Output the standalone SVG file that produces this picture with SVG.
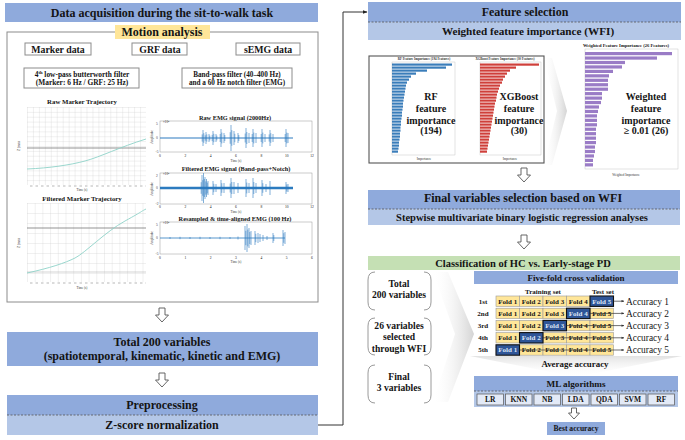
<svg xmlns="http://www.w3.org/2000/svg" width="685" height="440" viewBox="0 0 685 440">
<defs>
<style>
text{font-family:"Liberation Serif","Times New Roman",serif;fill:#141414}
.b{font-weight:bold}
.m{text-anchor:middle}
.h12{font-size:12px;font-weight:bold;text-anchor:middle}
.hd{fill:#8faadc}
.lt{fill:#b4c7e7}
.box{fill:#fff;stroke:#8c8c8c;stroke-width:1}
.dash{stroke:#555;stroke-width:0.8;stroke-dasharray:2,1.5}
.arw{fill:#fff;stroke:#555;stroke-width:0.9}
.emg{stroke:#2c7bbf;stroke-width:0.6;fill:none}
.eb{stroke:#2c7bbf;fill:none}
.ax{fill:#fff;stroke:#999;stroke-width:0.5}
.tk{font-size:3.6px;fill:#444;text-anchor:middle}
.fold{fill:#ffe699;stroke:#9a9a9a;stroke-width:0.6}
.test{fill:#2f5597;stroke:#111;stroke-width:1.1}
.ft{font-size:7px;font-weight:bold;text-anchor:middle}
.tw{fill:#dfe6f5}
.rl{font-size:7px;font-weight:bold;text-anchor:middle}
.acc{font-size:9.4px}
.brk{fill:none;stroke:#9a9a9a;stroke-width:1}
.bt{font-size:9.6px;font-weight:bold;text-anchor:middle}
.big{font-size:10px;font-weight:bold;text-anchor:middle}
.ml{fill:#e3eaf7;stroke:#555;stroke-width:0.7}
.mlt{font-size:7.5px;font-weight:bold;text-anchor:middle}
.rf{fill:#3a7dba}
.xg{fill:#cf3f3a}
.pu{fill:#9a7cc6}
.tiny{font-size:3.2px;fill:#333;text-anchor:middle}
.curve{fill:none;stroke:#8fd3c8;stroke-width:0.9}
</style>
<pattern id="g1" width="5.95" height="4.875" patternUnits="userSpaceOnUse" x="27" y="107"><path d="M0,0V4.875M0,0H5.95" stroke="#c6c6c6" stroke-width="0.5" fill="none"/></pattern>
<pattern id="g2" width="7.7" height="10" patternUnits="userSpaceOnUse" x="27" y="203"><path d="M0,0V10M0,0H7.7" stroke="#c6c6c6" stroke-width="0.5" fill="none"/></pattern>
<linearGradient id="fade" x1="0" y1="0" x2="1" y2="0"><stop offset="0" stop-color="#ffffff" stop-opacity="0"/><stop offset="1" stop-color="#d4d4d4"/></linearGradient>
<linearGradient id="fadeV" x1="0" y1="0" x2="0" y2="1"><stop offset="0" stop-color="#e2e2e2"/><stop offset="1" stop-color="#ffffff" stop-opacity="0"/></linearGradient>
<marker id="ah" viewBox="0 0 10 10" refX="9" refY="5" markerWidth="5" markerHeight="5" orient="auto"><path d="M0,1L10,5L0,9z" fill="#222"/></marker>
<marker id="sa" viewBox="0 0 10 10" refX="9" refY="5" markerWidth="4" markerHeight="4" orient="auto"><path d="M0,1L10,5L0,9z" fill="#333"/></marker>
<path id="darrow" d="M-3,0h6v7h3.5l-6.5,7l-6.5,-7h3.5z"/>
<path id="sarrow" d="M-2.5,0h5v5h3l-5.5,6l-5.5,-6h3z"/>
</defs>

<!-- LEFT COLUMN -->
<g id="title-left">
<rect x="5" y="3" width="313" height="19" class="hd"/>
<text x="162" y="16.5" class="h12">Data acquisition during the sit-to-walk task</text>
</g>

<g id="motion-analysis">
<rect x="7" y="32" width="311" height="270" fill="none" stroke="#8c8c8c" stroke-width="1"/>
<rect x="115" y="25" width="95" height="14" fill="#ffe699"/>
<text x="162" y="36" class="h12">Motion analysis</text>
</g>

<g id="marker-data"><rect x="25" y="43" width="66" height="12" class="box"/><text x="58" y="52.5" class="b m" font-size="9.8">Marker data</text></g>
<g id="grf-data"><rect x="132" y="43" width="55" height="12" class="box"/><text x="160" y="52.5" class="b m" font-size="9.8">GRF data</text></g>
<g id="semg-data"><rect x="236" y="43" width="64" height="12" class="box"/><text x="268" y="52.5" class="b m" font-size="9.8">sEMG data</text></g>

<g id="filter-marker">
<rect x="24" y="68" width="115" height="20" class="box"/>
<text x="82" y="76.5" class="b m" font-size="7.4">4<tspan font-size="4.6" dy="-2.5">th</tspan><tspan dy="2.5"> low-pass butterworth filter</tspan></text>
<text x="82" y="85" class="b m" font-size="7.4">(Marker: 6 Hz / GRF: 25 Hz)</text>
</g>
<g id="filter-emg">
<rect x="182" y="68" width="110" height="20" class="box"/>
<text x="237" y="76.5" class="b m" font-size="7.2">Band-pass filter (40–400 Hz)</text>
<text x="237" y="85" class="b m" font-size="7.2">and a 60 Hz notch filter (EMG)</text>
</g>

<g id="raw-marker-plot">
<text x="82" y="103.5" class="b m" font-size="6.8">Raw Marker Trajectory</text>
<rect x="27" y="107" width="119" height="78" fill="url(#g1)"/>
<line x1="27" y1="148" x2="146" y2="148" stroke="#666" stroke-width="0.7"/>
<path class="curve" d="M27,169 C50,168 70,165 85,161 S120,147 146,139"/>
<line x1="30" y1="186" x2="146" y2="186" stroke="#888" stroke-width="0.6" stroke-dasharray="2.5,3"/>
<text x="82" y="191" class="tiny">Time (s)</text>
<text transform="translate(20,146) rotate(-90)" class="tiny">Z (mm)</text>
</g>

<g id="filtered-marker-plot">
<text x="82" y="200.5" class="b m" font-size="6.8">Filtered Marker Trajectory</text>
<rect x="27" y="203" width="119" height="79" fill="url(#g2)"/>
<line x1="27" y1="228" x2="146" y2="228" stroke="#666" stroke-width="0.7"/>
<line x1="27" y1="272" x2="146" y2="272" stroke="#aaa" stroke-width="0.5"/>
<path class="curve" d="M27,273 C50,268 65,263 75,258 S105,232 125,221 S140,212 146,209"/>
<line x1="30" y1="283" x2="146" y2="283" stroke="#888" stroke-width="0.6" stroke-dasharray="2.5,3"/>
<text x="82" y="289" class="tiny">Time (s)</text>
<text transform="translate(20,243) rotate(-90)" class="tiny">Z (mm)</text>
</g>

<g id="raw-emg-plot">
<text x="235" y="119.5" class="b m" font-size="6.3">Raw EMG signal (2000Hz)</text>
<rect x="160" y="121" width="152" height="31" class="ax"/>
<text x="163" y="123" font-size="3.2">×10<tspan font-size="2.4" dy="-1">4</tspan></text>
<text x="157" y="125" class="tk">5</text><text x="157" y="139" class="tk">0</text><text x="157" y="153" class="tk">-5</text>
<text transform="translate(153,137) rotate(-90)" class="tiny">Amplitude</text>
<path class="eb" stroke-width="1.1" d="M160 138H293"/>
<path class="emg" d="M203 130V146M203.8 133.2V142.8M202.2 134.4V141.6M206 132V144M206.8 134.4V141.6M205.2 135.3V140.7M209 134V142M209.8 135.6V140.4M213 131V145M213.8 133.8V142.2M212.2 134.85V141.15M216 134V142M216.8 135.6V140.4M221 129V147M221.8 132.6V143.4M220.2 134V142M224 133V143M224.8 135V141M231 125V151M231.8 130.2V145.8M230.2 132.2V143.8M234 131V145M234.8 133.8V142.2M238 133V143M238.8 135V141M246 128V148M246.8 132V144M245.2 133.5V142.5M249 133V143M253 129V147M253.8 132.6V143.4M252.2 134V142M256 133V143M262 129V147M262.8 132.6V143.4M261.2 134V142M265 134V142M270 130V146M270.8 133.2V142.8M269.2 134.4V141.6M273 134V142M286 129V147M286.8 132.6V143.4M285.2 134V142M288 133V143"/>
<g class="tk"><text x="160" y="157">0</text><text x="185.3" y="157">2</text><text x="210.7" y="157">4</text><text x="236" y="157">6</text><text x="261.3" y="157">8</text><text x="286.7" y="157">10</text><text x="312" y="157">12</text></g>
<text x="236" y="162" class="tiny">Time (s)</text>
</g>

<g id="filtered-emg-plot">
<text x="236" y="171" class="b m" font-size="6.3">Filtered EMG signal (Band-pass+Notch)</text>
<rect x="160" y="173" width="152" height="31" class="ax"/>
<text x="163" y="175" font-size="3.2">×10<tspan font-size="2.4" dy="-1">4</tspan></text>
<text x="157" y="177" class="tk">2</text><text x="157" y="189" class="tk">0</text><text x="157" y="205" class="tk">-2</text>
<text transform="translate(153,189) rotate(-90)" class="tiny">Amplitude</text>
<path class="eb" stroke-width="2.4" d="M160 188H293"/>
<path class="emg" d="M202 175V201M202.8 180.2V195.8M201.2 182.2V193.8M203.5 173V203M204.3 179V197M205 177V199M205.8 181.4V194.6M206.5 179V197M207.3 182.6V193.4M208 181V195M213 181V195M213.8 183.8V192.2M216 184V192M221 180V196M221.8 183.2V192.8M224 183V193M231 178V198M231.8 182V194M230.2 183.5V192.5M234 182V194M238 183V193M246 179V197M246.8 182.6V193.4M249 183V193M253 178V198M253.8 182V194M256 183V193M262 180V196M262.8 183.2V192.8M266 184V192M270 181V195M286 182V194M286.8 184.4V191.6M288 184V192"/>
<g class="tk"><text x="160" y="208">0</text><text x="185.3" y="208">2</text><text x="210.7" y="208">4</text><text x="236" y="208">6</text><text x="261.3" y="208">8</text><text x="286.7" y="208">10</text><text x="312" y="208">12</text></g>
<text x="236" y="213" class="tiny">Time (s)</text>
</g>

<g id="resampled-emg-plot">
<text x="235" y="220.5" class="b m" font-size="6.3">Resampled &amp; time-aligned EMG (100 Hz)</text>
<rect x="160" y="222" width="152" height="32" class="ax"/>
<text x="163" y="224" font-size="3.2">×10<tspan font-size="2.4" dy="-1">4</tspan></text>
<text x="157" y="226" class="tk">5</text><text x="157" y="239" class="tk">0</text><text x="157" y="255" class="tk">-5</text>
<text transform="translate(153,238) rotate(-90)" class="tiny">Amplitude</text>
<path class="eb" stroke-width="0.8" d="M160 238H285"/>
<path class="emg" d="M170 237V239M180 236.8V239.2M190 237V239M200 236.8V239.2M210 237V239M220 236.8V239.2M230 237V239M238 236.5V239.5M245 226V250M245.8 230.8V245.2M247 224V252M247.8 229.6V246.4M249 228V248M249.8 232V244M251 231V245M255 231V245M255.8 233.8V242.2M258 233V243M260 234V242M263 235V241M267 236V240M273 233V243M273.8 235V241M283 230V246M283.8 233.2V242.8M285 232V244"/>
<g class="tk"><text x="160" y="258.5">0</text><text x="185.3" y="258.5">1</text><text x="210.7" y="258.5">2</text><text x="236" y="258.5">3</text><text x="261.3" y="258.5">4</text><text x="286.7" y="258.5">5</text><text x="312" y="258.5">6</text></g>
<text x="236" y="263" class="tiny">Time (s)</text>
</g>

<g id="total-200">
<rect x="7" y="332" width="311" height="34" class="hd"/>
<text x="162" y="345.5" class="h12">Total 200 variables</text>
<text x="162" y="360" class="h12">(spatiotemporal, kinematic, kinetic and EMG)</text>
</g>

<g id="preprocessing">
<rect x="7" y="395" width="311" height="20" class="hd"/>
<rect x="7" y="415" width="311" height="20" class="lt"/>
<line x1="7" y1="415" x2="318" y2="415" class="dash"/>
<text x="162" y="409" class="h12">Preprocessing</text>
<text x="162" y="429" class="h12">Z-score normalization</text>
</g>

<!-- RIGHT COLUMN -->
<g id="feature-selection">
<rect x="368" y="2" width="313" height="20" class="hd"/>
<rect x="368" y="22" width="313" height="18" class="lt"/>
<line x1="368" y1="22" x2="681" y2="22" class="dash"/>
<text x="525" y="15.5" class="h12">Feature selection</text>
<text x="528" y="34.5" class="b m" font-size="11.2">Weighted feature importance (WFI)</text>
</g>

<g id="feature-charts">
<polygon points="544,58 552,58 567,111 552,165 544,165 557,111" fill="url(#fade)"/>
<rect x="369" y="56" width="175" height="107" fill="#fff" stroke="#555" stroke-width="1.1"/>
<text x="424" y="60" class="tiny b">RF Feature Importance (194 Features)</text>
<text x="505" y="60" class="tiny b">XGBoost Feature Importance (30 Features)</text>
<rect x="392" y="62" width="63" height="93" fill="none" stroke="#bbb" stroke-width="0.4"/>
<rect x="480" y="62" width="61" height="93" fill="none" stroke="#bbb" stroke-width="0.4"/>
<g class="rf">
<rect x="392" y="63.5" width="60" height="2.2"/><rect x="392" y="66.5" width="54" height="2.2"/><rect x="392" y="69.5" width="35" height="2.2"/><rect x="392" y="72.5" width="24" height="2.2"/><rect x="392" y="75.5" width="19" height="2.2"/><rect x="392" y="78.5" width="17" height="2.2"/><rect x="392" y="81.5" width="15" height="2.2"/><rect x="392" y="84.5" width="14" height="2.2"/><rect x="392" y="87.5" width="13.5" height="2.2"/><rect x="392" y="90.5" width="13" height="2.2"/><rect x="392" y="93.5" width="12.5" height="2.2"/><rect x="392" y="96.5" width="12" height="2.2"/><rect x="392" y="99.5" width="11.5" height="2.2"/><rect x="392" y="102.5" width="11" height="2.2"/><rect x="392" y="105.5" width="11" height="2.2"/><rect x="392" y="108.5" width="10.5" height="2.2"/><rect x="392" y="111.5" width="10" height="2.2"/><rect x="392" y="114.5" width="10" height="2.2"/><rect x="392" y="117.5" width="9.5" height="2.2"/><rect x="392" y="120.5" width="9" height="2.2"/><rect x="392" y="123.5" width="9" height="2.2"/><rect x="392" y="126.5" width="8.5" height="2.2"/><rect x="392" y="129.5" width="8.5" height="2.2"/><rect x="392" y="132.5" width="8" height="2.2"/><rect x="392" y="135.5" width="8" height="2.2"/><rect x="392" y="138.5" width="7.5" height="2.2"/><rect x="392" y="141.5" width="7" height="2.2"/><rect x="392" y="144.5" width="7" height="2.2"/><rect x="392" y="147.5" width="6.5" height="2.2"/><rect x="392" y="150.5" width="6" height="2.2"/>
</g>
<g class="xg">
<rect x="480" y="63.5" width="59" height="2.2"/><rect x="480" y="66.5" width="36" height="2.2"/><rect x="480" y="69.5" width="30" height="2.2"/><rect x="480" y="72.5" width="27" height="2.2"/><rect x="480" y="75.5" width="25" height="2.2"/><rect x="480" y="78.5" width="23" height="2.2"/><rect x="480" y="81.5" width="22" height="2.2"/><rect x="480" y="84.5" width="20" height="2.2"/><rect x="480" y="87.5" width="19" height="2.2"/><rect x="480" y="90.5" width="18" height="2.2"/><rect x="480" y="93.5" width="17" height="2.2"/><rect x="480" y="96.5" width="16.5" height="2.2"/><rect x="480" y="99.5" width="16" height="2.2"/><rect x="480" y="102.5" width="15" height="2.2"/><rect x="480" y="105.5" width="14.5" height="2.2"/><rect x="480" y="108.5" width="14" height="2.2"/><rect x="480" y="111.5" width="13.5" height="2.2"/><rect x="480" y="114.5" width="13" height="2.2"/><rect x="480" y="117.5" width="12.5" height="2.2"/><rect x="480" y="120.5" width="12" height="2.2"/><rect x="480" y="123.5" width="11.5" height="2.2"/><rect x="480" y="126.5" width="11" height="2.2"/><rect x="480" y="129.5" width="10.5" height="2.2"/><rect x="480" y="132.5" width="10" height="2.2"/><rect x="480" y="135.5" width="9.5" height="2.2"/><rect x="480" y="138.5" width="9" height="2.2"/><rect x="480" y="141.5" width="8.5" height="2.2"/><rect x="480" y="144.5" width="8" height="2.2"/><rect x="480" y="147.5" width="7.5" height="2.2"/><rect x="480" y="150.5" width="7" height="2.2"/>
</g>
<text x="424" y="160" class="tiny">Importance</text>
<text x="510" y="160" class="tiny">Importance</text>
<g class="big">
<text x="431" y="100">RF</text><text x="431" y="112">feature</text><text x="431" y="123.5">importance</text><text x="431" y="134">(194)</text>
<text x="519" y="100">XGBoost</text><text x="519" y="112">feature</text><text x="519" y="123.5">importance</text><text x="519" y="134">(30)</text>
</g>
</g>

<g id="weighted-chart">
<text x="626" y="46.5" class="b m" font-size="4.6">Weighted Feature Importance (26 Features)</text>
<rect x="585" y="49" width="93" height="120" fill="none" stroke="#bbb" stroke-width="0.4"/>
<g class="pu">
<rect x="585" y="52" width="87" height="3.2"/><rect x="585" y="56.45" width="72" height="3.2"/><rect x="585" y="60.9" width="40" height="3.2"/><rect x="585" y="65.35" width="37" height="3.2"/><rect x="585" y="69.8" width="28" height="3.2"/><rect x="585" y="74.25" width="24" height="3.2"/><rect x="585" y="78.7" width="23" height="3.2"/><rect x="585" y="83.15" width="23" height="3.2"/><rect x="585" y="87.6" width="23" height="3.2"/><rect x="585" y="92.05" width="17" height="3.2"/><rect x="585" y="96.5" width="17" height="3.2"/><rect x="585" y="100.95" width="16" height="3.2"/><rect x="585" y="105.4" width="14" height="3.2"/><rect x="585" y="109.85" width="13" height="3.2"/><rect x="585" y="114.3" width="12" height="3.2"/><rect x="585" y="118.75" width="12" height="3.2"/><rect x="585" y="123.2" width="12" height="3.2"/><rect x="585" y="127.65" width="11" height="3.2"/><rect x="585" y="132.1" width="11" height="3.2"/><rect x="585" y="136.55" width="11" height="3.2"/><rect x="585" y="141" width="11" height="3.2"/><rect x="585" y="145.45" width="10" height="3.2"/><rect x="585" y="149.9" width="10" height="3.2"/><rect x="585" y="154.35" width="9" height="3.2"/><rect x="585" y="158.8" width="8" height="3.2"/><rect x="585" y="163.25" width="8" height="3.2"/>
</g>
<text x="626" y="175.5" class="tiny">Weighted Importance</text>
<g class="big">
<text x="646" y="100">Weighted</text><text x="646" y="112">feature</text><text x="646" y="123.5">importance</text><text x="646" y="134">≥ 0.01 (26)</text>
</g>
</g>

<g id="final-selection">
<rect x="368" y="190" width="312" height="19" class="hd"/>
<rect x="368" y="209" width="312" height="16" class="lt"/>
<line x1="368" y1="209" x2="680" y2="209" class="dash"/>
<text x="523" y="202" class="h12">Final variables selection based on WFI</text>
<text x="522" y="220.5" class="b m" font-size="10.5">Stepwise multivariate binary logistic regression analyses</text>
</g>

<g id="classification">
<rect x="368" y="256" width="312" height="14" fill="#c5e0b4"/>
<text x="523" y="266.5" class="b m" font-size="10.5">Classification of HC vs. Early-stage PD</text>
</g>

<g id="variable-sets">
<polygon points="433,272 448,272 474,334 448,402 433,402 455,334" fill="url(#fade)"/>
<path class="brk" d="M375,272Q368,272 368,280V302Q368,310 375,310M424,272Q431,272 431,280V302Q431,310 424,310"/>
<text x="399" y="287" class="bt">Total</text><text x="399" y="298" class="bt">200 variables</text>
<path class="brk" d="M375,318Q368,318 368,326V347Q368,355 375,355M424,318Q431,318 431,326V347Q431,355 424,355"/>
<text x="399" y="328.5" class="bt">26 variables</text><text x="399" y="340" class="bt">selected</text><text x="399" y="351.5" class="bt">through WFI</text>
<path class="brk" d="M375,365Q368,365 368,373V395Q368,403 375,403M424,365Q431,365 431,373V395Q431,403 424,403"/>
<text x="399" y="379.5" class="bt">Final</text><text x="399" y="391" class="bt">3 variables</text>
</g>

<g id="five-fold-cv">
<polygon points="470,356 682,356 576,377" fill="url(#fadeV)"/>
<rect x="474" y="271" width="204" height="13" class="hd"/>
<text x="576" y="280.5" class="b m" font-size="9">Five-fold cross validation</text>
<text x="543" y="293.5" class="rl">Training set</text>
<text x="603" y="293.5" class="rl">Test set</text>
<g class="rl"><text x="483" y="303.6">1st</text><text x="483" y="315.8">2nd</text><text x="483" y="328">3rd</text><text x="483" y="340.2">4th</text><text x="483" y="352.4">5th</text></g>
<g class="fold">
<rect x="496" y="296" width="23.5" height="10.4"/><rect x="519.5" y="296" width="23.5" height="10.4"/><rect x="543" y="296" width="23.5" height="10.4"/><rect x="566.5" y="296" width="23.5" height="10.4"/>
<rect x="496" y="308.2" width="23.5" height="10.4"/><rect x="519.5" y="308.2" width="23.5" height="10.4"/><rect x="543" y="308.2" width="23.5" height="10.4"/><rect x="590" y="308.2" width="23.5" height="10.4"/>
<rect x="496" y="320.4" width="23.5" height="10.4"/><rect x="519.5" y="320.4" width="23.5" height="10.4"/><rect x="566.5" y="320.4" width="23.5" height="10.4"/><rect x="590" y="320.4" width="23.5" height="10.4"/>
<rect x="496" y="332.6" width="23.5" height="10.4"/><rect x="543" y="332.6" width="23.5" height="10.4"/><rect x="566.5" y="332.6" width="23.5" height="10.4"/><rect x="590" y="332.6" width="23.5" height="10.4"/>
<rect x="519.5" y="344.8" width="23.5" height="10.4"/><rect x="543" y="344.8" width="23.5" height="10.4"/><rect x="566.5" y="344.8" width="23.5" height="10.4"/><rect x="590" y="344.8" width="23.5" height="10.4"/>
</g>
<g class="test">
<rect x="590" y="296" width="23.5" height="10.4"/><rect x="566.5" y="308.2" width="23.5" height="10.4"/><rect x="543" y="320.4" width="23.5" height="10.4"/><rect x="519.5" y="332.6" width="23.5" height="10.4"/><rect x="496" y="344.8" width="23.5" height="10.4"/>
</g>
<g class="ft">
<text x="507.75" y="303.6">Fold 1</text><text x="531.25" y="303.6">Fold 2</text><text x="554.75" y="303.6">Fold 3</text><text x="578.25" y="303.6">Fold 4</text><text x="601.75" y="303.6" class="tw">Fold 5</text>
<text x="507.75" y="315.8">Fold 1</text><text x="531.25" y="315.8">Fold 2</text><text x="554.75" y="315.8">Fold 3</text><text x="578.25" y="315.8" class="tw">Fold 4</text><text x="601.75" y="315.8">Fold 5</text>
<text x="507.75" y="328">Fold 1</text><text x="531.25" y="328">Fold 2</text><text x="554.75" y="328" class="tw">Fold 3</text><text x="578.25" y="328">Fold 4</text><text x="601.75" y="328">Fold 5</text>
<text x="507.75" y="340.2">Fold 1</text><text x="531.25" y="340.2" class="tw">Fold 2</text><text x="554.75" y="340.2">Fold 3</text><text x="578.25" y="340.2">Fold 4</text><text x="601.75" y="340.2">Fold 5</text>
<text x="507.75" y="352.4" class="tw">Fold 1</text><text x="531.25" y="352.4">Fold 2</text><text x="554.75" y="352.4">Fold 3</text><text x="578.25" y="352.4">Fold 4</text><text x="601.75" y="352.4">Fold 5</text>
</g>
<g fill="none" stroke="#333" stroke-width="0.7" marker-end="url(#sa)">
<line x1="613.5" y1="301.2" x2="624" y2="301.2"/>
<line x1="590" y1="313.4" x2="624" y2="313.4"/>
<line x1="566.5" y1="325.6" x2="624" y2="325.6"/>
<line x1="543" y1="337.8" x2="624" y2="337.8"/>
<line x1="519.5" y1="350" x2="624" y2="350"/>
</g>
<g class="acc"><text x="626" y="304.5">Accuracy 1</text><text x="626" y="316.7">Accuracy 2</text><text x="626" y="328.9">Accuracy 3</text><text x="626" y="341.1">Accuracy 4</text><text x="626" y="353.3">Accuracy 5</text></g>
<text x="575" y="366.5" class="b m" font-size="8.9">Average accuracy</text>
</g>

<g id="ml-algorithms">
<rect x="474" y="376" width="204" height="15" class="hd"/>
<rect x="474" y="391" width="204" height="16" class="lt"/>
<line x1="474" y1="391" x2="678" y2="391" class="dash"/>
<text x="576" y="386.5" class="b m" font-size="9.2">ML algorithms</text>
<rect x="477" y="394" width="26.5" height="11" class="ml"/><rect x="505.5" y="394" width="26.5" height="11" class="ml"/><rect x="534" y="394" width="26.5" height="11" class="ml"/><rect x="562.5" y="394" width="26.5" height="11" class="ml"/><rect x="591" y="394" width="26.5" height="11" class="ml"/><rect x="619.5" y="394" width="26.5" height="11" class="ml"/><rect x="648" y="394" width="26.5" height="11" class="ml"/>
<g class="mlt"><text x="490.25" y="402.3">LR</text><text x="518.75" y="402.3">KNN</text><text x="547.25" y="402.3">NB</text><text x="575.75" y="402.3">LDA</text><text x="604.25" y="402.3">QDA</text><text x="632.75" y="402.3">SVM</text><text x="661.25" y="402.3">RF</text></g>
</g>

<g id="best-accuracy">
<rect x="547" y="422" width="58" height="13" class="hd"/>
<text x="576" y="431.3" class="b m" font-size="7.6">Best accuracy</text>
</g>

<!-- CONNECTORS -->
<g id="connectors">
<use href="#darrow" x="162" y="308" class="arw"/>
<use href="#darrow" x="162" y="373" class="arw"/>
<use href="#darrow" x="524" y="168" class="arw"/>
<use href="#darrow" x="524" y="235" class="arw"/>
<use href="#sarrow" x="574" y="408" class="arw"/>
<polyline points="318,425 343,425 343,12 367,12" fill="none" stroke="#333" stroke-width="1" marker-end="url(#ah)"/>
</g>
</svg>
